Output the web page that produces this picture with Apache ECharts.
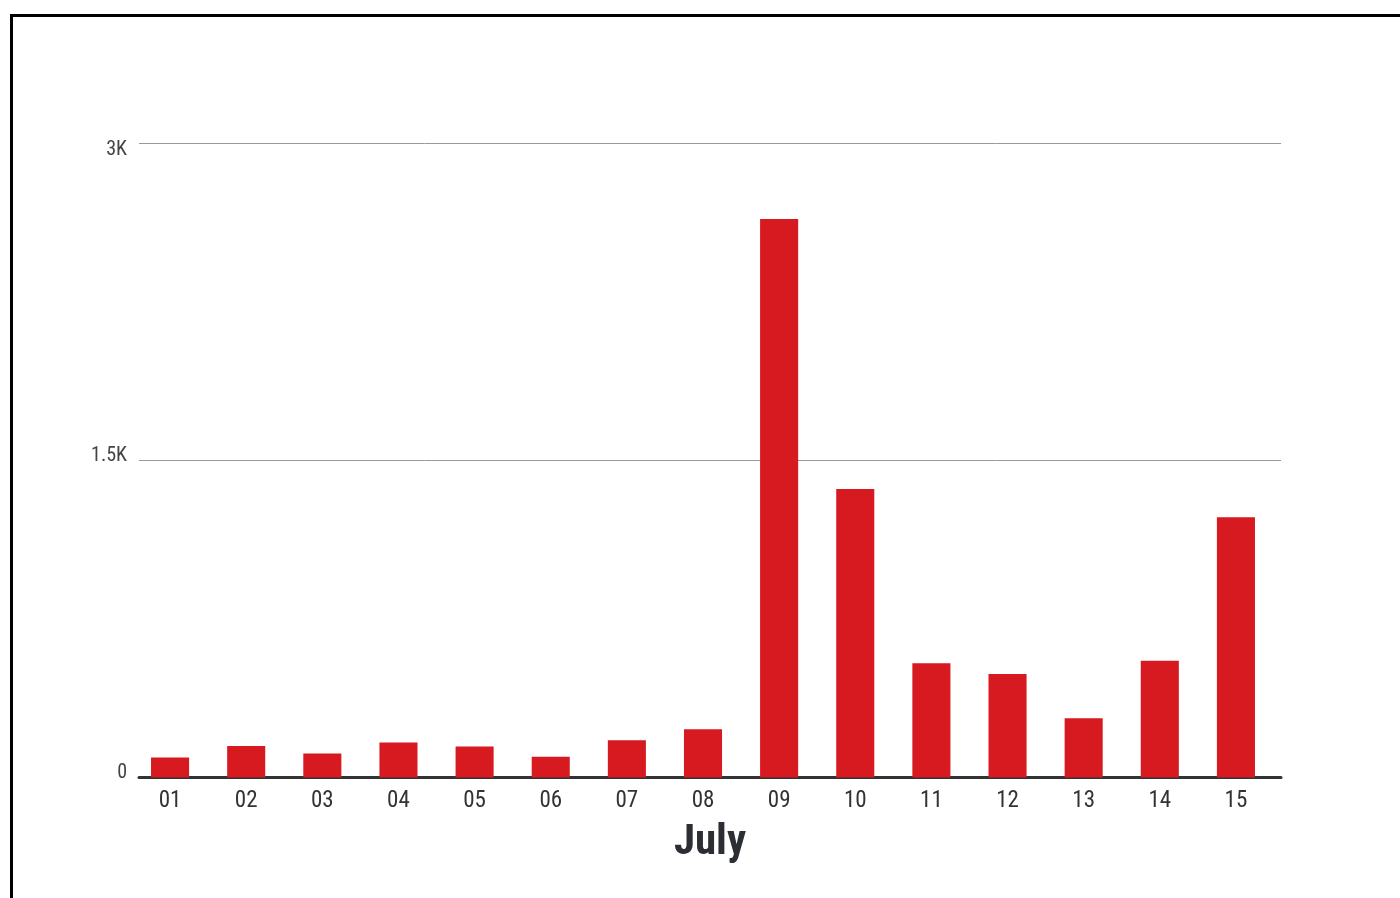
<!DOCTYPE html>
<html>
<head>
<meta charset="utf-8">
<style>
  html, body { margin: 0; padding: 0; background: #fff; }
  #frame { position: absolute; left: 10px; top: 14px; width: 1400px; height: 900px;
           border-left: 3px solid #000; border-top: 3px solid #000; box-sizing: border-box; }
  #chart { position: absolute; left: 0; top: 0; width: 1400px; height: 898px; }
</style>
<script src="https://cdn.jsdelivr.net/npm/echarts@6/dist/echarts.min.js"></script>
</head>
<body>
<div id="frame"></div>
<div id="chart"></div>
<script>
// Daily counts for the first half of July
const days = ['01', '02', '03', '04', '05', '06', '07', '08', '09', '10', '11', '12', '13', '14', '15'];
const counts = [94, 149, 114, 166, 146, 98, 176, 228, 2641, 1364, 540, 489, 280, 552, 1230];
const yTicks = [0, 1500, 3000];
const yTickLabels = ['0', '1.5K', '3K'];
const axisTitle = 'July';

const narrow = "'Liberation Sans Narrow', 'Roboto Condensed', Roboto, sans-serif";

const chart = echarts.init(document.getElementById('chart'), null, { renderer: 'canvas' });
chart.setOption({
  animation: false,
  backgroundColor: 'transparent',
  // grid 0 carries the value scale, gridlines, baseline and title; grid 1 carries the bars
  grid: [
    { left: 139, right: 119, top: 143, bottom: 120.5, containLabel: false },
    { left: 132, right: 126, top: 143, bottom: 120.5, containLabel: false }
  ],
  xAxis: [
    {
      gridIndex: 0,
      type: 'category',
      data: days,
      name: axisTitle,
      nameLocation: 'middle',
      nameGap: 44,
      nameTextStyle: { fontFamily: narrow, fontWeight: 'bold', fontSize: 43, color: '#2b2f33' },
      axisLine: { lineStyle: { color: '#333', width: 3 } },
      axisTick: { show: false },
      axisLabel: { show: false }
    },
    {
      gridIndex: 1,
      type: 'category',
      data: days,
      axisLine: { show: false },
      axisTick: { show: false },
      axisLabel: { fontFamily: narrow, fontSize: 23, color: '#333', margin: 12 }
    }
  ],
  yAxis: [
    {
      gridIndex: 0,
      type: 'value',
      min: 0,
      max: 3000,
      interval: 1500,
      axisLine: { show: false },
      axisTick: { show: false },
      splitLine: { lineStyle: { color: '#999', width: 1 } },
      axisLabel: {
        fontFamily: narrow, fontSize: 20, color: '#444', margin: 12,
        formatter: v => {
          const t = yTickLabels[yTicks.indexOf(v)] ?? '';
          return v === 3000 ? '{low|' + t + '}' : '{high|' + t + '}';
        },
        rich: {
          low: { fontFamily: narrow, fontSize: 20, color: '#444', padding: [14, 0, 0, 0] },
          high: { fontFamily: narrow, fontSize: 20, color: '#444', padding: [0, 0, 9, 0] }
        }
      }
    },
    {
      gridIndex: 1,
      type: 'value',
      min: 0,
      max: 3000,
      interval: 1500,
      show: false
    }
  ],
  series: [{
    type: 'bar',
    xAxisIndex: 1,
    yAxisIndex: 1,
    data: counts,
    barWidth: '50%',
    itemStyle: { color: '#d71920' }
  }]
});
</script>
</body>
</html>
